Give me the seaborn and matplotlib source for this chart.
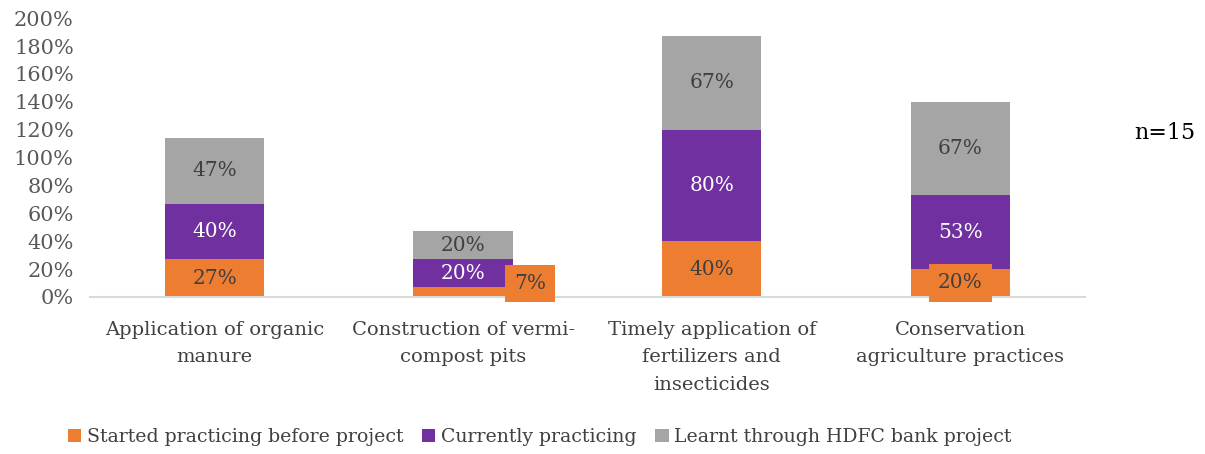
import numpy as np
import pandas as pd
import matplotlib
matplotlib.use("Agg")
import matplotlib.pyplot as plt
import seaborn as sns
from matplotlib.patches import Patch

categories = [
    "Application of organic\nmanure",
    "Construction of vermi-\ncompost pits",
    "Timely application of\nfertilizers and\ninsecticides",
    "Conservation\nagriculture practices",
]
series_names = [
    "Started practicing before project",
    "Currently practicing",
    "Learnt through HDFC bank project",
]
started_before = [27, 7, 40, 20]
currently = [40, 20, 80, 53]
learnt_hdfc = [47, 20, 67, 67]
y_ticks = [0, 20, 40, 60, 80, 100, 120, 140, 160, 180, 200]

colors = ["#ED7D31", "#7030A0", "#A5A5A5"]
text_colors = ["#404040", "white", "#404040"]

sns.set_theme(style="white")
plt.rcParams["font.family"] = ["DejaVu Serif"]

fig = plt.figure(figsize=(12.05, 4.54), dpi=100)
ax = fig.add_axes([0.075, 0.346, 0.825, 0.614])

series = [started_before, currently, learnt_hdfc]
bottom = np.zeros(len(categories))
for name, vals, col, tcol in zip(series_names, series, colors, text_colors):
    df = pd.DataFrame({"cat": categories, "val": vals})
    sns.barplot(data=df, x="cat", y="val", color=col, width=0.4,
                bottom=bottom, ax=ax, saturation=1, linewidth=0)
    for i, v in enumerate(vals):
        xc, yc = i, bottom[i] + v / 2
        kw = {}
        if name == series_names[0] and i == 1:
            # small segment: label pushed to the right in its own box
            xc, yc = i + 0.27, 9.5
            kw["bbox"] = dict(boxstyle="square,pad=0.45", fc=col, ec="none")
        elif name == series_names[0] and i == 3:
            kw["bbox"] = dict(boxstyle="square,pad=0.45", fc=col, ec="none")
        ax.text(xc, yc, f"{v}%", ha="center", va="center", color=tcol,
                fontsize=14.5, **kw)
    bottom = bottom + np.array(vals)

ax.set_xlim(-0.5, 3.5)
ax.set_ylim(0, 200)
ax.set_yticks(y_ticks)
ax.set_yticklabels([f"{t}%" for t in y_ticks], color="#595959", fontsize=15)
ax.set_xlabel("")
ax.set_ylabel("")
ax.tick_params(axis="x", colors="#404040", labelsize=14, length=0, pad=17)
ax.tick_params(axis="y", length=0, pad=12)
for lbl in ax.get_xticklabels():
    lbl.set_linespacing(1.68)
for s in ["top", "right", "left"]:
    ax.spines[s].set_visible(False)
ax.spines["bottom"].set_color("#D9D9D9")
ax.spines["bottom"].set_linewidth(1.5)
ax.grid(False)

fig.text(0.967, 0.706, "n=15", ha="center", va="center", fontsize=16,
         color="black")

handles = [Patch(facecolor=c, edgecolor="none") for c in colors]
fig.legend(handles, series_names, loc="lower center", ncol=3,
           bbox_to_anchor=(0.448, -0.02), frameon=False, fontsize=13.6,
           handlelength=0.7, handleheight=0.7, handletextpad=0.3,
           columnspacing=1.0, labelcolor="#404040")

fig.savefig("out.png", dpi=100)
